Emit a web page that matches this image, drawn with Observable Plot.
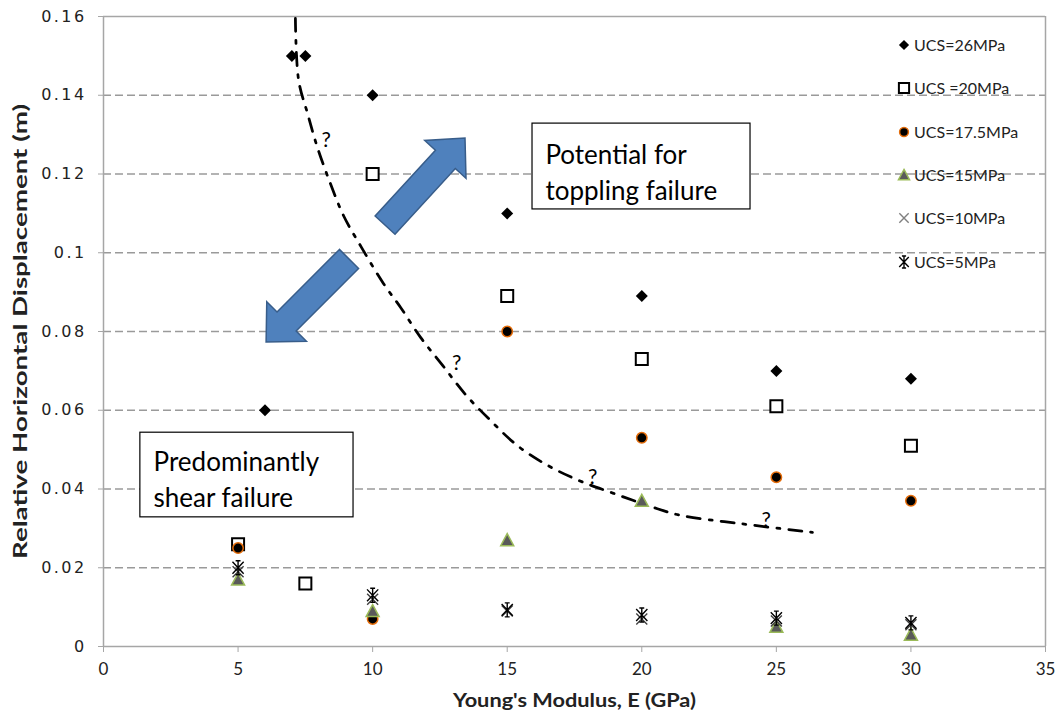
<!DOCTYPE html>
<html><head><meta charset="utf-8">
<script src="https://cdn.jsdelivr.net/npm/d3@7"></script>
<script src="https://cdn.jsdelivr.net/npm/@observablehq/plot@0.6"></script>
<style>
body{margin:0;background:#fff;}
#chart svg{display:block;}
#chart g[aria-label="y-axis tick label"] text{letter-spacing:2.4px;}
</style></head><body><div id="chart"></div>
<script>
// ---------- data ----------
const xTicks = [0, 5, 10, 15, 20, 25, 30, 35];
const yTicks = [0, 0.02, 0.04, 0.06, 0.08, 0.1, 0.12, 0.14, 0.16];
const legendLabels = ["UCS=26MPa", "UCS =20MPa", "UCS=17.5MPa", "UCS=15MPa", "UCS=10MPa", "UCS=5MPa"];

const ucs26E = [6, 7, 7.5, 10, 15, 20, 25, 30];
const ucs26D = [0.060, 0.150, 0.150, 0.140, 0.110, 0.089, 0.070, 0.068];
const ucs20E = [5, 7.5, 10, 15, 20, 25, 30];
const ucs20D = [0.026, 0.016, 0.120, 0.089, 0.073, 0.061, 0.051];
const ucs175E = [5, 10, 15, 20, 25, 30];
const ucs175D = [0.025, 0.007, 0.080, 0.053, 0.043, 0.037];
const ucs15E = [5, 10, 15, 20, 25, 30];
const ucs15D = [0.017, 0.009, 0.027, 0.037, 0.005, 0.003];
const ucs10E = [5, 10, 15, 20, 25, 30];
const ucs10D = [0.019, 0.012, 0.009, 0.007, 0.0065, 0.0055];
const ucs5E = [5, 10, 15, 20, 25, 30];
const ucs5D = [0.020, 0.013, 0.0093, 0.008, 0.0072, 0.006];

// boundary curve (dash-dot)
const curveE = [7.13, 7.25, 7.58, 7.95, 8.43, 8.92, 9.59, 10.40, 11.04, 11.78, 12.60, 13.45, 14.38, 15.38, 16.50, 17.65, 18.95, 20.58, 21.44, 23.67, 26.34];
const curveD = [0.1595, 0.1438, 0.1354, 0.1267, 0.1176, 0.1094, 0.1013, 0.0922, 0.0861, 0.0785, 0.0714, 0.0640, 0.0574, 0.0510, 0.0460, 0.0422, 0.0389, 0.0350, 0.0333, 0.0312, 0.0290];
const questionE = [8.2, 13.05, 18.1, 24.55];
const questionD = [0.1285, 0.0719, 0.0429, 0.0320];

// annotations
const arrowTailE = [10.48, 9.14];
const arrowTailD = [0.1069, 0.0983];
const arrowTipE = [13.45, 6.06];
const arrowTipD = [0.1290, 0.0772];
const boxTexts = ["Potential for\ntoppling failure", "Predominantly\nshear failure"];
const boxX1 = [15.94, 1.37];
const boxX2 = [24.04, 9.29];
const boxY1 = [0.1110, 0.0328];
const boxY2 = [0.1328, 0.0543];
const boxTextE = [16.42, 1.86];
const boxTextD = [0.1290, 0.0510];

const xTitle = "Young's Modulus, E (GPa)";
const yTitle = "Relative Horizontal Displacement (m)";

// ---------- symbols & styles ----------
const symDiamond = {draw(c, size){const r=Math.sqrt(size/Math.PI); c.moveTo(0,-r); c.lineTo(r,0); c.lineTo(0,r); c.lineTo(-r,0); c.closePath();}};
const symSquare = {draw(c, size){const r=Math.sqrt(size/Math.PI); c.moveTo(-r,-r); c.lineTo(r,-r); c.lineTo(r,r); c.lineTo(-r,r); c.closePath();}};
const symTriangle = {draw(c, size){const r=Math.sqrt(size/Math.PI); c.moveTo(0,-r); c.lineTo(r,r*0.85); c.lineTo(-r,r*0.85); c.closePath();}};
const symTimes = {draw(c, size){const r=Math.sqrt(size/Math.PI); c.moveTo(-r,-r); c.lineTo(r,r); c.moveTo(-r,r); c.lineTo(r,-r);}};
const symStar = {draw(c, size){const r=Math.sqrt(size/Math.PI); c.moveTo(-r*0.8,-r*0.85); c.lineTo(r*0.8,r*0.85); c.moveTo(-r*0.8,r*0.85); c.lineTo(r*0.8,-r*0.85); c.moveTo(0,-r); c.lineTo(0,r); c.moveTo(-r*0.35,-r); c.lineTo(r*0.35,-r); c.moveTo(-r*0.35,r); c.lineTo(r*0.35,r);}};
const symCircle = {draw(c, size){const r=Math.sqrt(size/Math.PI); c.moveTo(r,0); c.arc(0,0,r,0,2*Math.PI);}};

const styles = [
  {symbol: symDiamond, r: 6, fill: "#000", stroke: "none", strokeWidth: 0},
  {symbol: symSquare, r: 6, fill: "#fff", stroke: "#000", strokeWidth: 2},
  {symbol: symCircle, r: 5.2, fill: "#000", stroke: "#E46C0A", strokeWidth: 1.5},
  {symbol: symTriangle, r: 6.5, fill: "#5a5a5a", stroke: "#9BBB59", strokeWidth: 1.5},
  {symbol: symTimes, r: 5.5, fill: "none", stroke: "#404040", strokeWidth: 1.4},
  {symbol: symStar, r: 7, fill: "none", stroke: "#000", strokeWidth: 1.4}
];

const seriesE = [ucs26E, ucs20E, ucs175E, ucs15E, ucs10E, ucs5E];
const seriesD = [ucs26D, ucs20D, ucs175D, ucs15D, ucs10D, ucs5D];
const seriesData = seriesE.map((es, i) => es.map((e, j) => ({E: e, D: seriesD[i][j]})));
const curveData = curveE.map((e, i) => ({E: e, D: curveD[i]}));
const qData = questionE.map((e, i) => ({E: e, D: questionD[i]}));
const boxData = boxTexts.map((t, i) => ({t, x1: boxX1[i], x2: boxX2[i], y1: boxY1[i], y2: boxY2[i], tx: boxTextE[i], ty: boxTextD[i]}));
const arrowData = arrowTailE.map((e, i) => ({x0: e, y0: arrowTailD[i], x1: arrowTipE[i], y1: arrowTipD[i]}));

const FONT = "Lato, 'Open Sans', sans-serif";

// block arrows (function mark using Plot's scales)
function arrowsMark(index, scales) {
  const g = d3.create("svg:g");
  for (const a of arrowData) {
    const T = [scales.x(a.x0), scales.y(a.y0)], H = [scales.x(a.x1), scales.y(a.y1)];
    const L = Math.hypot(H[0]-T[0], H[1]-T[1]);
    const u = [(H[0]-T[0])/L, (H[1]-T[1])/L], n = [-u[1], u[0]];
    const w = 13.5, hw = 28, hl = 29;
    const B = [H[0]-u[0]*hl, H[1]-u[1]*hl];
    const pts = [
      [T[0]+n[0]*w, T[1]+n[1]*w], [B[0]+n[0]*w, B[1]+n[1]*w], [B[0]+n[0]*hw, B[1]+n[1]*hw], H,
      [B[0]-n[0]*hw, B[1]-n[1]*hw], [B[0]-n[0]*w, B[1]-n[1]*w], [T[0]-n[0]*w, T[1]-n[1]*w]
    ];
    g.append("path").attr("d", "M" + pts.map(p => p.join(",")).join("L") + "Z")
      .attr("fill", "#4F81BD").attr("stroke", "#385D8A").attr("stroke-width", 1.5).attr("stroke-linejoin", "miter");
  }
  return g.node();
}

// legend (function mark, top-right inside the frame)
function legendMark(index, scales, values, dims) {
  const g = d3.create("svg:g").attr("text-anchor", "start");
  const sx = dims.width - 157, tx = dims.width - 147;
  const rows = [45, 88, 132, 175, 218, 262];
  styles.forEach((s, i) => {
    const r = s.r * 0.85;
    g.append("path").attr("transform", `translate(${sx},${rows[i]})`)
      .attr("d", d3.symbol(s.symbol, r*r*Math.PI)())
      .attr("fill", s.fill).attr("stroke", i === 4 ? "#808080" : s.stroke).attr("stroke-width", s.strokeWidth);
    g.append("text").attr("x", tx).attr("y", rows[i]).attr("dy", "0.35em").attr("text-anchor", "start")
      .attr("font-family", FONT).attr("font-size", 16).attr("fill", "#222").text(legendLabels[i]);
  });
  return g.node();
}

const dotMarks = seriesData.map((d, i) => Plot.dot(d, {x: "E", y: "D", ...styles[i]}));

const plot = Plot.plot({
  width: 1061, height: 719,
  marginLeft: 103, marginRight: 16, marginTop: 16, marginBottom: 73,
  style: {fontFamily: FONT, background: "#fff"},
  x: {domain: [0, 35], ticks: xTicks},
  y: {domain: [0, 0.16], ticks: yTicks},
  marks: [
    Plot.gridY(yTicks.filter(t => t > 0 && t < 0.16), {stroke: "#9a9a9a", strokeOpacity: 1, strokeWidth: 1.3, strokeDasharray: "8,4"}),
    Plot.ruleY([0.16], {stroke: "#a6a6a6", strokeWidth: 1.5}),
    Plot.ruleX([35], {stroke: "#a6a6a6", strokeWidth: 1.5}),
    Plot.ruleX([0], {stroke: "#a6a6a6", strokeWidth: 1.5}),
    Plot.ruleY([0], {stroke: "#a6a6a6", strokeWidth: 1.5}),
    Plot.axisX({ticks: xTicks, tickSize: 6, tickPadding: 10, stroke: "#a6a6a6", fill: "#222", fontSize: 17, label: null, tickFormat: d => String(d)}),
    Plot.axisY({ticks: yTicks, tickSize: 5, tickPadding: 12, stroke: "#a6a6a6", fill: "#222", fontSize: 16, fontFamily: "'DejaVu Sans', sans-serif", label: null, tickFormat: d => String(+d.toFixed(2))}),
    Plot.text([xTitle], {frameAnchor: "bottom", dy: 60, textAnchor: "middle", fontWeight: "bold", fontSize: 19, fill: "#222"}),
    Plot.text([yTitle], {frameAnchor: "left", dx: -83, textAnchor: "middle", rotate: -90, fontWeight: "bold", fontSize: 19, fill: "#222"}),
    Plot.line(curveData, {x: "E", y: "D", curve: "catmull-rom", stroke: "#000", strokeWidth: 2.75, strokeDasharray: "13,9,3,9"}),
    Plot.text(qData, {x: "E", y: "D", text: () => "?", fontSize: 21, fill: "#000", dx: 2}),
    ...dotMarks,
    arrowsMark,
    Plot.rect(boxData, {x1: "x1", x2: "x2", y1: "y1", y2: "y2", fill: "#fff", stroke: "#000", strokeWidth: 1.2}),
    Plot.text(boxData, {x: "tx", y: "ty", text: "t", textAnchor: "start", lineAnchor: "top", lineHeight: 1.38, fontSize: 26, fill: "#000"}),
    legendMark
  ]
});
document.getElementById("chart").appendChild(plot);
// stretch axis titles to the reference's lengths
d3.select(plot).selectAll("text").filter(function(){ return this.textContent === yTitle; })
  .attr("textLength", 455).attr("lengthAdjust", "spacingAndGlyphs");
d3.select(plot).selectAll("text").filter(function(){ return this.textContent === xTitle; })
  .attr("textLength", 243).attr("lengthAdjust", "spacingAndGlyphs");
</script></body></html>
